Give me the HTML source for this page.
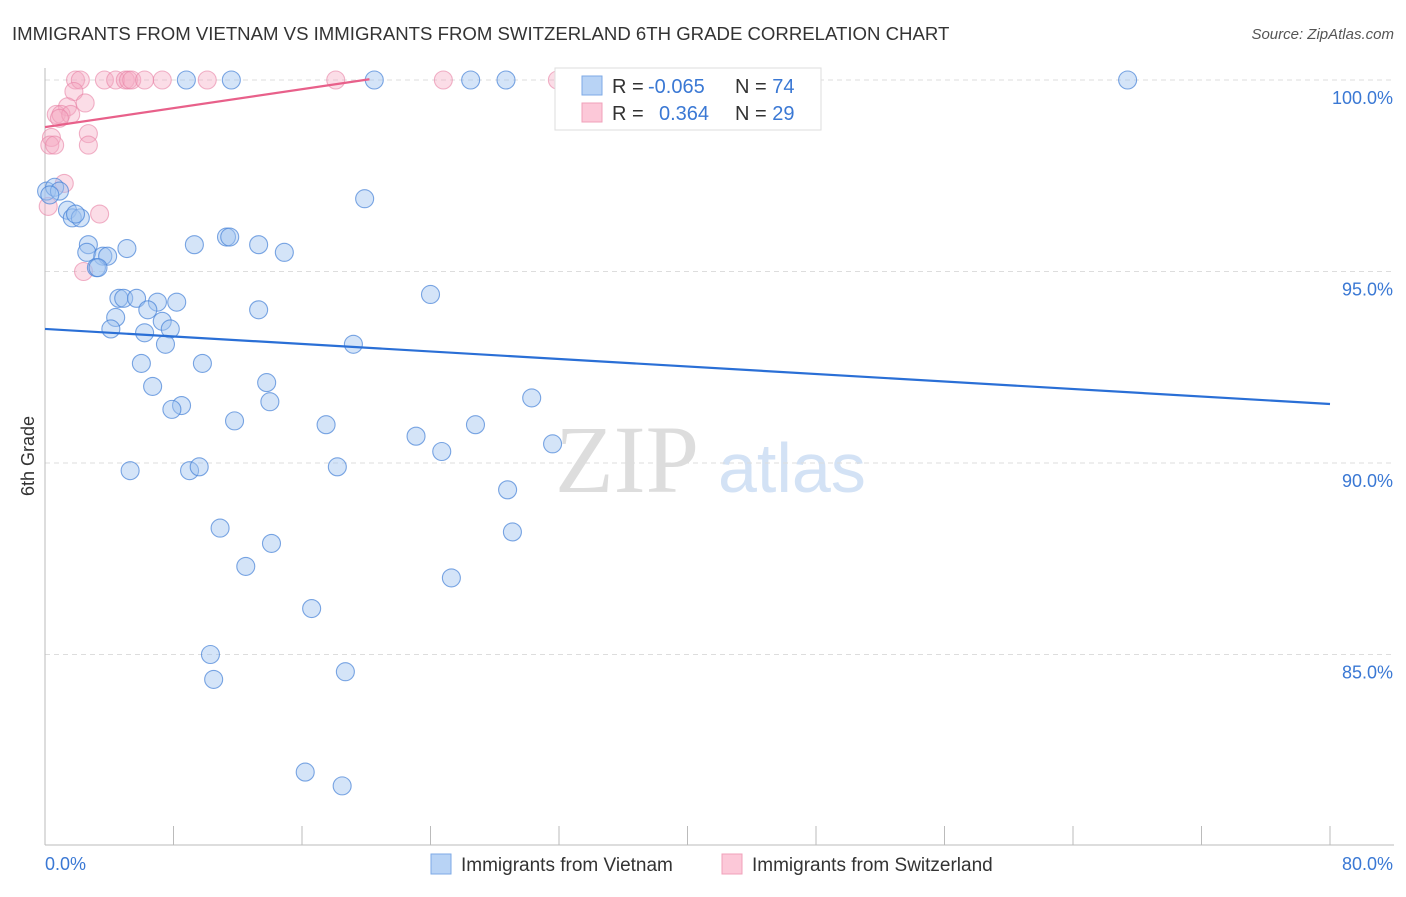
<!DOCTYPE html>
<html><head><meta charset="utf-8"><style>
body{margin:0;background:#fff;font-family:"Liberation Sans",sans-serif}
</style></head><body>
<svg id="c" width="1406" height="892" xmlns="http://www.w3.org/2000/svg">
<text x="12" y="40" font-size="18.6" fill="#333">IMMIGRANTS FROM VIETNAM VS IMMIGRANTS FROM SWITZERLAND 6TH GRADE CORRELATION CHART</text>
<text x="1394" y="39" font-size="15" fill="#555" text-anchor="end" font-style="italic">Source: ZipAtlas.com</text>
<text x="555" y="492" font-size="96" fill="#ddd" font-family="Liberation Serif,serif">ZIP</text>
<text x="718" y="492" font-size="70" fill="#d3e2f5">atlas</text>
<text transform="translate(34,456) rotate(-90)" font-size="18" fill="#333" text-anchor="middle">6th Grade</text>
<g id="grid"></g><g id="marks"></g>
<g>
<rect x="555" y="68" width="266" height="62" fill="#fff" stroke="#ddd"/>
<rect x="582" y="76" width="20" height="19" fill="#b8d3f5" stroke="#7eaae6"/>
<rect x="582" y="103" width="20" height="19" fill="#fcc8d8" stroke="#f0a0ba"/>
<text x="612" y="93" font-size="20" fill="#333">R = <tspan fill="#3a78d4" x="648">-0.065</tspan><tspan x="735">N = </tspan><tspan fill="#3a78d4">74</tspan></text>
<text x="612" y="120" font-size="20" fill="#333">R = <tspan fill="#3a78d4" x="659">0.364</tspan><tspan x="735">N = </tspan><tspan fill="#3a78d4">29</tspan></text>
</g>
<g>
<rect x="431" y="854" width="20" height="20" fill="#b8d3f5" stroke="#7eaae6"/>
<text x="461" y="871" font-size="19" fill="#333">Immigrants from Vietnam</text>
<rect x="722" y="854" width="20" height="20" fill="#fcc8d8" stroke="#f0a0ba"/>
<text x="752" y="871" font-size="19" fill="#333">Immigrants from Switzerland</text>
</g>
</svg>
<script>
const yTicks=[100,95,90,85];
const xTickLabels=["0.0%","80.0%"];
const blueX=[8.8,11.6,20.5,26.5,28.7,43.3,67.4,0.1,0.6,0.9,0.3,1.4,1.7,2.2,1.9,2.7,2.6,3.6,3.9,3.2,3.3,5.1,9.3,11.3,11.5,13.3,14.9,19.9,4.6,4.9,5.7,7.0,8.2,6.4,4.4,4.1,6.2,7.3,7.8,7.5,13.3,19.2,24.0,6.0,9.8,6.7,13.8,14.0,8.5,7.9,11.8,17.5,23.1,24.7,26.8,30.3,31.6,5.3,9.0,9.6,18.2,28.8,10.9,14.1,12.5,29.1,25.3,16.6,10.3,10.5,18.7,16.2,18.5];
const blueY=[100,100,100,100,100,100,100,97.1,97.2,97.1,97.0,96.6,96.4,96.4,96.5,95.7,95.5,95.4,95.4,95.1,95.1,95.6,95.7,95.9,95.9,95.7,95.5,96.9,94.3,94.3,94.3,94.2,94.2,94.0,93.8,93.5,93.4,93.7,93.5,93.1,94.0,93.1,94.4,92.6,92.6,92.0,92.1,91.6,91.5,91.4,91.1,91.0,90.7,90.3,91.0,91.7,90.5,89.8,89.8,89.9,89.9,89.3,88.3,87.9,87.3,88.2,87.0,86.2,85.0,84.35,84.55,81.93,81.57];
const pinkX=[1.9,2.2,3.7,4.4,5.0,5.2,5.4,6.2,7.3,10.1,18.1,24.8,31.9,1.8,1.4,2.5,0.7,1.0,1.6,0.9,2.7,2.7,0.4,0.3,0.6,1.2,3.4,0.2,2.4];
const pinkY=[100,100,100,100,100,100,100,100,100,100,100,100,100,99.7,99.3,99.4,99.1,99.1,99.1,99.0,98.6,98.3,98.5,98.3,98.3,97.3,96.5,96.7,95.0];
const blueTrend=[93.5,91.54], pinkTrend=[98.77,100.02], pinkTrendEnd=20.2;
const X=v=>45+v/80*1285, Y=v=>80+(100-v)*38.3;
const NS="http://www.w3.org/2000/svg";
const g=document.getElementById('grid'), m=document.getElementById('marks');
function el(t,a,p){const e=document.createElementNS(NS,t);for(const k in a)e.setAttribute(k,a[k]);p.appendChild(e);return e;}
yTicks.forEach(t=>{
 const l=el('line',{x1:45,x2:1394,y1:Y(t),y2:Y(t),stroke:'#ddd','stroke-dasharray':'5,4'},g);
 
 
 const tx=el('text',{x:1393,y:Y(t)+24,'font-size':18,fill:'#3a78d4','text-anchor':'end'},g);
 tx.textContent=t.toFixed(1)+'%';
 
 
});
const ax=el('line',{x1:45,x2:1394,y1:845,y2:845,stroke:'#bbb'},g);


const ay=el('line',{x1:45,x2:45,y1:68,y2:845,stroke:'#bbb'},g);


for(let k=0;k<=10;k++){const t=el('line',{x1:X(k*8),x2:X(k*8),y1:826,y2:845,stroke:'#bbb'},g);
 
 }
[[0,'start',45],[80,'end',1393]].forEach((d,i)=>{const t=el('text',{x:d[2],y:870,'font-size':18,fill:'#3a78d4','text-anchor':d[1]},g);t.textContent=xTickLabels[i];
 
 });
pinkX.forEach((v,i)=>{const c=el('circle',{cx:X(v),cy:Y(pinkY[i]),r:9,fill:'rgba(245,170,195,0.4)',stroke:'rgba(232,130,165,0.6)','stroke-width':1.1},m);
 
 });
blueX.forEach((v,i)=>{const c=el('circle',{cx:X(v),cy:Y(blueY[i]),r:9,fill:'rgba(160,195,240,0.45)',stroke:'rgba(70,130,215,0.7)','stroke-width':1.1},m);
 
 });
const bl=el('line',{x1:X(0),y1:Y(blueTrend[0]),x2:X(80),y2:Y(blueTrend[1]),stroke:'#2a6fd6','stroke-width':2.2},m);


const pl=el('line',{x1:X(0),y1:Y(pinkTrend[0]),x2:X(pinkTrendEnd),y2:Y(pinkTrend[1]),stroke:'#e8608a','stroke-width':2.2},m);


</script>
</body></html>
